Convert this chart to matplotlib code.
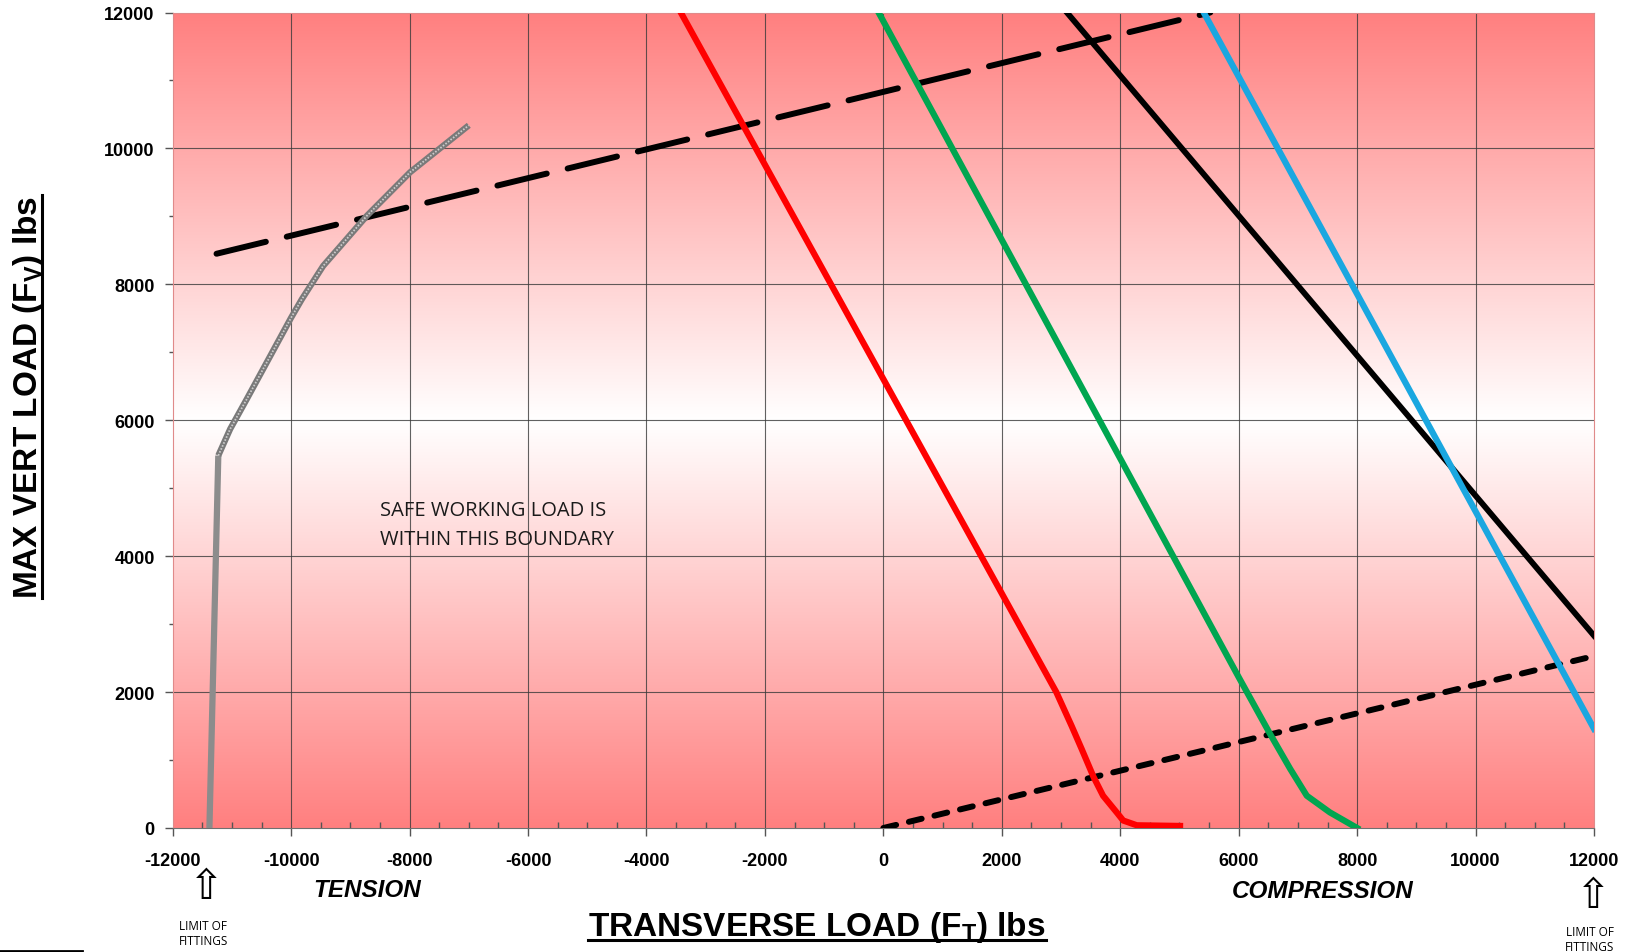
import numpy as np
import matplotlib
matplotlib.use("Agg")
import matplotlib.pyplot as plt
from matplotlib.lines import Line2D
from matplotlib.ticker import MultipleLocator

plt.rcParams['font.family'] = ['Liberation Sans', 'DejaVu Sans']
plt.rcParams['mathtext.fontset'] = 'custom'
plt.rcParams['mathtext.bf'] = 'Liberation Sans:bold'
plt.rcParams['mathtext.rm'] = 'Liberation Sans:bold'
plt.rcParams['axes.unicode_minus'] = False

# curves: transverse load (x) vs max vertical load (y), lbs
gray_x = [-11380, -11230]
gray_y = [0, 5480]
gray_hatch_x = [-11230, -11030, -10750, -10000, -9820, -9460, -8720, -7990, -7000]
gray_hatch_y = [5480, 5870, 6310, 7510, 7780, 8270, 9010, 9650, 10340]
red_x = [-3420, 2920, 3180, 3350, 3550, 3710, 3940, 4050, 4280, 5010]
red_y = [12000, 2000, 1500, 1160, 750, 475, 230, 110, 40, 30]
green_x = [-80, 6000, 6520, 6870, 7150, 7540, 8000]
green_y = [12000, 2220, 1400, 870, 475, 230, 0]
black_x = [3100, 12000]
black_y = [12000, 2830]
blue_x = [5410, 12000]
blue_y = [12000, 1460]
upper_dash_x = [-11260, 5520]
upper_dash_y = [8450, 12000]
lower_dash_x = [0, 12000]
lower_dash_y = [0, 2530]

x_ticks = np.arange(-12000, 12001, 2000)
y_ticks = np.arange(0, 12001, 2000)

W, H = 1637, 953
fig = plt.figure(figsize=(W / 100, H / 100), dpi=100)
ax = fig.add_axes([172.7 / W, 1 - 829 / H, 1421.3 / W, 815.5 / H])

# background: red at top and bottom, fading to white around 6000
yy = np.linspace(0, 12000, 400)
t = np.abs(yy - 6000) / 6000
red = np.array([1.0, 0.5, 0.5])
img = (1 - t)[:, None] * np.ones(3) + t[:, None] * red
ax.imshow(img[:, None, :], extent=[-12000, 12000, 0, 12000], origin='lower',
          aspect='auto', interpolation='bilinear', zorder=0)

for gx in x_ticks[1:-1]:
    ax.axvline(gx, color='#3a3a3a', lw=0.8, alpha=0.8, zorder=1)
for gy in y_ticks[1:-1]:
    ax.axhline(gy, color='#3a3a3a', lw=0.8, alpha=0.8, zorder=1)

ax.plot(upper_dash_x, upper_dash_y, color='black', lw=4.3, zorder=3,
        dashes=(8.5, 3.6), dash_capstyle='round')
ax.plot(lower_dash_x, lower_dash_y, color='black', lw=4.3, zorder=3,
        dashes=(2.2, 2.2), dash_capstyle='round')

ax.plot(gray_x, gray_y, color='#8c8c8c', lw=4.5, zorder=4, solid_capstyle='butt')
ax.plot(gray_hatch_x, gray_hatch_y, color='#7a7a7a', lw=4.5, zorder=4,
        solid_capstyle='butt', solid_joinstyle='round')
ax.plot(gray_hatch_x, gray_hatch_y, color='#cccccc', lw=1.3, zorder=4,
        dashes=(0.9, 0.9))

ax.plot(red_x, red_y, color='#ff0000', lw=4.5, zorder=4, solid_joinstyle='round')
ax.plot(green_x, green_y, color='#00a650', lw=4.5, zorder=4, solid_joinstyle='round')
ax.plot(black_x, black_y, color='black', lw=4.2, zorder=4)
ax.plot(blue_x, blue_y, color='#1aa7e0', lw=4.5, zorder=4)

ax.set_xlim(-12000, 12000)
ax.set_ylim(0, 12000)
ax.set_xticks(x_ticks)
ax.set_yticks(y_ticks)
ax.xaxis.set_minor_locator(MultipleLocator(500))
ax.yaxis.set_minor_locator(MultipleLocator(1000))
ax.tick_params(axis='x', which='major', direction='out', length=6, width=1,
               color='#555555', labelsize=13, pad=11)
ax.tick_params(axis='x', which='minor', direction='in', length=4, width=1,
               color='#555555')
ax.tick_params(axis='y', which='major', direction='out', length=6, width=1,
               color='#555555', labelsize=13, pad=7)
ax.tick_params(axis='y', which='minor', direction='out', length=3, width=1,
               color='#555555')
for lab in ax.get_xticklabels() + ax.get_yticklabels():
    lab.set_fontweight('bold')

for side in ['left', 'right', 'top']:
    ax.spines[side].set_color('#e08a8a')
ax.spines['bottom'].set_color('#707070')

ax.text(-8500, 4460, "SAFE WORKING LOAD IS\nWITHIN THIS BOUNDARY",
        fontsize=14.5, family=['Open Sans', 'DejaVu Sans'], color='#1a1a1a',
        ha='left', va='center', linespacing=1.6, zorder=5)

# texts below the axis
fig.text(367 / W, 1 - 890.5 / H, "TENSION", fontsize=17.5, fontweight='bold',
         style='italic', ha='center', va='center')
fig.text(1322.5 / W, 1 - 891.7 / H, "COMPRESSION", fontsize=17.5,
         fontweight='bold', style='italic', ha='center', va='center')
for ax_x, ax_y, lim_y in [(206.7, 887.5, 934), (1593.3, 895.8, 940)]:
    fig.text(ax_x / W, 1 - ax_y / H, "\u21e7", fontsize=30,
             family=['DejaVu Sans'], ha='center', va='center')
    fig.text(ax_x / W - 0.002, 1 - lim_y / H, "LIMIT OF\nFITTINGS", fontsize=8.5,
             family=['Open Sans', 'DejaVu Sans'], ha='center', va='center',
             linespacing=1.25)

xlab = fig.text(817 / W, 1 - 936.5 / H,
                r"TRANSVERSE LOAD (F$_{\mathbf{T}}$) lbs",
                fontsize=24, fontweight='bold', ha='center', va='baseline')
ylab = fig.text(37 / W, 1 - 397.5 / H,
                r"MAX VERT LOAD (F$_{\mathbf{V}}$) lbs",
                fontsize=24, fontweight='bold', ha='center', va='baseline',
                rotation=90, rotation_mode='anchor')

# underline the axis titles
fig.canvas.draw()
r = fig.canvas.get_renderer()
bx = xlab.get_window_extent(r)
uy = (953 - 940.5) / H
fig.add_artist(Line2D([bx.x0 / W, bx.x1 / W], [uy, uy], color='black', lw=2.2))
by = ylab.get_window_extent(r)
ux = 41.7 / W
fig.add_artist(Line2D([ux, ux], [by.y0 / H, by.y1 / H], color='black', lw=2.2))

# page edge fragment at the bottom left
fig.add_artist(Line2D([0, 82 / W], [1.3 / H, 1.3 / H], color='black', lw=2))

fig.savefig("out.png", dpi=100)
